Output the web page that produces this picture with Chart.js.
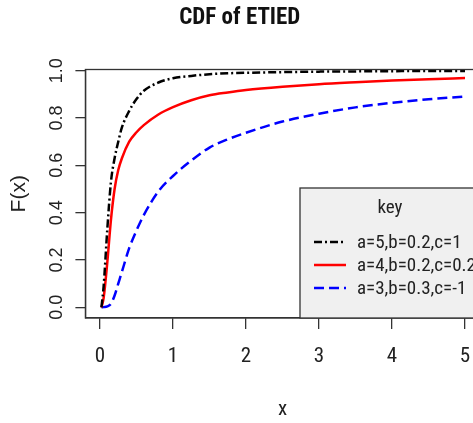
<!DOCTYPE html>
<html>
<head>
<meta charset="utf-8">
<script src="https://cdn.jsdelivr.net/npm/chart.js@4.4.1/dist/chart.umd.min.js"></script>
<style>
  html, body { margin: 0; padding: 0; background: #fff; overflow: hidden; }
  #wrap { width: 482px; height: 423px; }
</style>
</head>
<body>
<div id="wrap"><canvas id="cdf" width="482" height="423"></canvas></div>
<script>
// values
const xValues = [0.02, 0.05, 0.1, 0.15, 0.2, 0.25, 0.3, 0.4, 0.5, 0.6, 0.8, 1, 1.25, 1.5, 1.75, 2, 2.5, 3, 3.5, 4, 4.5, 5];
const cdfBlack = [0, 0.09, 0.33, 0.53, 0.63, 0.7, 0.76, 0.83, 0.88, 0.915, 0.95, 0.968, 0.978, 0.985, 0.989, 0.991, 0.994, 0.996, 0.997, 0.998, 0.999, 0.999];
const cdfRed = [0, 0.04, 0.19, 0.37, 0.5, 0.58, 0.63, 0.7, 0.74, 0.77, 0.815, 0.846, 0.875, 0.896, 0.908, 0.918, 0.932, 0.943, 0.951, 0.958, 0.964, 0.969];
const cdfBlue = [0, 0.001, 0.004, 0.015, 0.05, 0.1, 0.15, 0.25, 0.325, 0.39, 0.49, 0.555, 0.62, 0.675, 0.71, 0.738, 0.785, 0.818, 0.845, 0.864, 0.879, 0.891];
const seriesNames = ["a=5,b=0.2,c=1", "a=4,b=0.2,c=0.2", "a=3,b=0.3,c=-1"];
const xTicks = [0, 1, 2, 3, 4, 5];
const yTicks = [0, 0.2, 0.4, 0.6, 0.8, 1.0];

const NARROW = "'Roboto Condensed', 'Liberation Sans', sans-serif";
const PLAIN = "'Liberation Sans', Arial, sans-serif";

function pts(ys) {
    return xValues.map((x, i) => ({ x: x, y: ys[i] }));
}

// box round the plot and the "key" legend, R style
const rBox = {
    id: 'rBox',
    afterDraw(chart) {
        const ctx = chart.ctx;
        const a = chart.chartArea;
        ctx.save();
        ctx.strokeStyle = '#333';
        ctx.lineWidth = 1.3;
        ctx.strokeRect(a.left, a.top, a.right - a.left, a.bottom - a.top);

        // legend
        const lx = 300, ly = 188;
        ctx.fillStyle = '#f0f0f0';
        ctx.fillRect(lx, ly, a.right - lx, a.bottom - ly);
        ctx.strokeRect(lx, ly, a.right - lx, a.bottom - ly);
        ctx.fillStyle = '#222';
        ctx.font = '19px ' + NARROW;
        ctx.textAlign = 'center';
        ctx.textBaseline = 'middle';
        ctx.fillText('key', 390, 208);
        ctx.textAlign = 'left';
        const rows = [242, 265, 288];
        chart.data.datasets.forEach((ds, i) => {
            ctx.strokeStyle = ds.borderColor;
            ctx.lineWidth = ds.borderWidth;
            ctx.setLineDash(ds.borderDash || []);
            ctx.beginPath();
            ctx.moveTo(314, rows[i]);
            ctx.lineTo(346, rows[i]);
            ctx.stroke();
            ctx.setLineDash([]);
            ctx.fillStyle = '#222';
            ctx.fillText(ds.label, 357, rows[i] + 1);
        });
        ctx.restore();
    }
};

new Chart(document.getElementById('cdf').getContext('2d'), {
    type: 'line',
    data: {
        datasets: [
            {
                label: seriesNames[0],
                data: pts(cdfBlack),
                borderColor: '#000000',
                borderWidth: 2.5,
                borderDash: [8, 3, 2, 3],
            },
            {
                label: seriesNames[1],
                data: pts(cdfRed),
                borderColor: '#ff0000',
                borderWidth: 2.5,
            },
            {
                label: seriesNames[2],
                data: pts(cdfBlue),
                borderColor: '#0000ff',
                borderWidth: 2.5,
                borderDash: [10, 5],
            }
        ]
    },
    options: {
        responsive: false,
        animation: false,
        layout: { padding: { left: 0, right: 2.4, top: 0, bottom: 0 } },
        elements: {
            point: { radius: 0 },
            line: { cubicInterpolationMode: 'monotone', fill: false }
        },
        plugins: {
            legend: { display: false },
            tooltip: { enabled: false },
            title: {
                display: true,
                text: 'CDF of ETIED',
                color: '#111',
                font: { family: NARROW, size: 23, weight: 'bold', lineHeight: 1.2 },
                padding: { top: 4.2, bottom: 37.7 }
            }
        },
        scales: {
            x: {
                type: 'linear',
                min: -0.2,
                max: 5.2,
                afterBuildTicks: s => { s.ticks = xTicks.map(v => ({ value: v })); },
                afterFit: s => { s.height = 105; s.paddingLeft = 0; s.paddingRight = 0; },
                grid: { display: true, drawOnChartArea: false, drawTicks: true, tickLength: 11, color: '#333', lineWidth: 1.3 },
                border: { display: true, color: '#333', width: 1.3 },
                ticks: {
                    color: '#222',
                    font: { family: NARROW, size: 21, lineHeight: 1.2 },
                    padding: 15.4,
                    maxRotation: 0,
                    callback: v => String(v)
                },
                title: {
                    display: true,
                    text: 'x',
                    color: '#222',
                    font: { family: NARROW, size: 21, lineHeight: 1.2 },
                    padding: { top: 0, bottom: 0.5 }
                }
            },
            y: {
                type: 'linear',
                min: -0.045,
                max: 1.005,
                afterBuildTicks: s => { s.ticks = yTicks.map(v => ({ value: v })); },
                afterFit: s => { s.width = 85.4; s.paddingTop = 0; s.paddingBottom = 0; },
                grid: { display: true, drawOnChartArea: false, drawTicks: true, tickLength: 10, color: '#333', lineWidth: 1.3 },
                border: { display: true, color: '#333', width: 1.3 },
                ticks: {
                    color: '#222',
                    font: { family: PLAIN, size: 18 },
                    padding: 6,
                    minRotation: 90,
                    maxRotation: 90,
                    crossAlign: 'center',
                    callback: v => v.toFixed(1)
                },
                title: {
                    display: true,
                    text: 'F(x)',
                    color: '#222',
                    font: { family: PLAIN, size: 21, lineHeight: 1.2 },
                    padding: { top: 6.9, bottom: 0 }
                }
            }
        }
    },
    plugins: [rBox]
});
</script>
</body>
</html>
